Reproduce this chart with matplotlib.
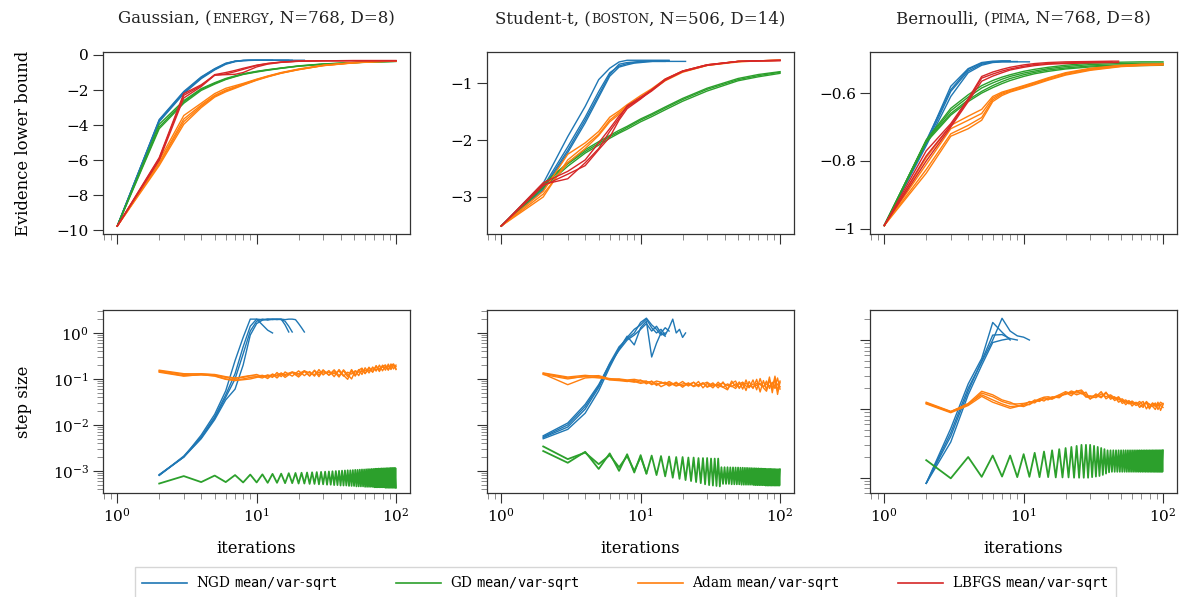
"""
ELBO and step-size traces for NGD, GD, Adam and LBFGS (mean/var-sqrt
parameterisation) on three regression/classification datasets.
"""
import matplotlib
matplotlib.use("Agg")
import matplotlib.pyplot as plt
from matplotlib.lines import Line2D
from matplotlib.offsetbox import AnchoredOffsetbox, HPacker, TextArea

METHODS = ["NGD", "GD", "Adam", "LBFGS"]
LEGEND_LABELS = [r"NGD $\mathtt{mean/var}$-$\mathtt{sqrt}$",
                 r"GD $\mathtt{mean/var}$-$\mathtt{sqrt}$",
                 r"Adam $\mathtt{mean/var}$-$\mathtt{sqrt}$",
                 r"LBFGS $\mathtt{mean/var}$-$\mathtt{sqrt}$"]
TITLES = [("Gaussian, (", "ENERGY", ", N=768, D=8)"),
          ("Student-t, (", "BOSTON", ", N=506, D=14)"),
          ("Bernoulli, (", "PIMA", ", N=768, D=8)")]

# iteration grids
ELBO_ITERS = [1, 2, 3, 4, 5, 6, 7, 8, 10, 12, 15, 20, 30, 50, 70, 100]
NGD_ITERS = list(range(1, 23))
NGD_STEP_ITERS = list(range(2, 23))
GD_STEP_ITERS = list(range(2, 101))
ADAM_STEP_ITERS = [2, 3, 4, 5, 6, 7, 8, 9, 10, 11, 12, 13, 14, 15, 16,
                   18, 20, 22, 24, 26, 28, 30,
                   33, 36, 39, 42, 45, 48, 51, 54, 57, 60,
                   64, 68, 72, 76, 80, 84, 88, 92, 96, 100]
PIMA_LBFGS_ITERS = [1, 2, 3, 4, 5, 6, 7, 8, 10, 12, 15, 20, 30, 43, 48]

# ---- evidence lower bound: Gaussian / energy ----
gauss_elbo_ngd = [
    [-9.75, -3.68, -2.08, -1.25, -0.78, -0.47, -0.35, -0.31, -0.30, -0.30, -0.30, -0.30, -0.30],
    [-9.75, -3.75, -2.15, -1.30, -0.82, -0.50, -0.36, -0.32, -0.30, -0.30, -0.30, -0.30, -0.30,
     -0.30, -0.30, -0.30, -0.30],
    [-9.75, -3.80, -2.20, -1.35, -0.85, -0.53, -0.38, -0.32, -0.31, -0.30, -0.30, -0.30, -0.30,
     -0.30, -0.30, -0.30, -0.30, -0.30],
    [-9.75, -3.72, -2.12, -1.28, -0.80, -0.49, -0.36, -0.31, -0.30, -0.30, -0.30, -0.30, -0.30,
     -0.30, -0.30, -0.30, -0.30, -0.30, -0.30, -0.30, -0.30, -0.30],
]
gauss_elbo_gd = [
    [-9.75, -4.10, -2.67, -1.96, -1.62, -1.37, -1.22, -1.09, -0.95, -0.85, -0.75, -0.63, -0.52, -0.43, -0.39, -0.36],
    [-9.75, -3.95, -2.60, -1.92, -1.58, -1.34, -1.19, -1.07, -0.93, -0.84, -0.74, -0.62, -0.51, -0.43, -0.39, -0.36],
    [-9.75, -4.20, -2.75, -2.02, -1.66, -1.40, -1.24, -1.11, -0.97, -0.87, -0.76, -0.64, -0.53, -0.44, -0.40, -0.37],
]
gauss_elbo_adam = [
    [-9.75, -6.00, -3.45, -2.75, -2.20, -1.90, -1.75, -1.62, -1.38, -1.20, -1.00, -0.80, -0.58, -0.43, -0.37, -0.34],
    [-9.75, -6.15, -3.65, -2.85, -2.30, -2.00, -1.82, -1.66, -1.40, -1.22, -1.02, -0.82, -0.60, -0.44, -0.38, -0.34],
    [-9.75, -6.30, -3.95, -3.00, -2.40, -2.10, -1.90, -1.72, -1.44, -1.25, -1.04, -0.84, -0.61, -0.45, -0.38, -0.35],
    [-9.75, -6.20, -3.80, -2.92, -2.35, -2.05, -1.86, -1.70, -1.42, -1.23, -1.03, -0.83, -0.60, -0.44, -0.38, -0.34],
]
gauss_elbo_lbfgs = [
    [-9.75, -5.90, -2.30, -1.75, -1.12, -1.00, -0.88, -0.76, -0.58, -0.48, -0.40, -0.35, -0.33, -0.32, -0.32, -0.32],
    [-9.75, -5.85, -2.20, -1.70, -1.15, -1.08, -0.95, -0.82, -0.60, -0.49, -0.41, -0.35, -0.33, -0.32, -0.32, -0.32],
    [-9.75, -6.00, -2.45, -1.80, -1.15, -1.12, -1.10, -1.00, -0.68, -0.52, -0.42, -0.36, -0.33, -0.33, -0.33, -0.33],
]

# ---- evidence lower bound: Student-t / boston ----
boston_elbo_ngd = [
    [-3.51, -2.76, -1.94, -1.41, -0.94, -0.74, -0.63, -0.60, -0.60, -0.60, -0.60, -0.60, -0.60,
     -0.60, -0.60, -0.60],
    [-3.51, -2.85, -2.18, -1.65, -1.21, -0.85, -0.67, -0.64, -0.63, -0.62, -0.62, -0.62, -0.62,
     -0.62, -0.62, -0.62, -0.62, -0.62, -0.62, -0.62, -0.62],
    [-3.51, -2.82, -2.12, -1.60, -1.15, -0.82, -0.70, -0.66, -0.64, -0.63, -0.62, -0.62, -0.62,
     -0.62, -0.62],
    [-3.51, -2.88, -2.22, -1.70, -1.25, -0.88, -0.72, -0.68, -0.65, -0.64, -0.63, -0.62, -0.61,
     -0.61, -0.61, -0.61],
]
boston_elbo_gd = [
    [-3.51, -2.80, -2.42, -2.20, -2.06, -1.94, -1.86, -1.78, -1.65, -1.56, -1.44, -1.29, -1.11, -0.94, -0.87, -0.81],
    [-3.51, -2.84, -2.46, -2.23, -2.09, -1.97, -1.88, -1.81, -1.68, -1.59, -1.47, -1.32, -1.14, -0.96, -0.89, -0.83],
    [-3.51, -2.77, -2.40, -2.17, -2.03, -1.92, -1.83, -1.76, -1.63, -1.54, -1.42, -1.27, -1.09, -0.92, -0.85, -0.80],
]
boston_elbo_adam = [
    [-3.51, -2.90, -2.25, -2.05, -1.85, -1.60, -1.49, -1.38, -1.22, -1.10, -0.93, -0.79, -0.68, -0.62, -0.61, -0.60],
    [-3.51, -3.00, -2.35, -2.10, -1.90, -1.65, -1.52, -1.40, -1.25, -1.12, -0.95, -0.80, -0.69, -0.62, -0.61, -0.60],
    [-3.51, -2.95, -2.40, -2.15, -1.92, -1.68, -1.55, -1.42, -1.26, -1.13, -0.96, -0.81, -0.69, -0.63, -0.61, -0.60],
]
boston_elbo_lbfgs = [
    [-3.51, -2.78, -2.68, -2.40, -2.15, -1.85, -1.62, -1.40, -1.25, -1.12, -0.93, -0.79, -0.68, -0.62, -0.61, -0.60],
    [-3.51, -2.75, -2.55, -2.35, -2.05, -1.80, -1.58, -1.42, -1.27, -1.14, -0.95, -0.80, -0.69, -0.62, -0.61, -0.61],
    [-3.51, -2.80, -2.60, -2.45, -2.17, -1.95, -1.65, -1.45, -1.28, -1.12, -0.94, -0.79, -0.68, -0.62, -0.61, -0.60],
]

# ---- evidence lower bound: Bernoulli / pima ----
pima_elbo_ngd = [
    [-0.99, -0.745, -0.580, -0.528, -0.510, -0.506, -0.505, -0.505],
    [-0.99, -0.750, -0.595, -0.535, -0.515, -0.508, -0.507, -0.507, -0.507],
    [-0.99, -0.755, -0.610, -0.540, -0.518, -0.510, -0.508, -0.508, -0.508, -0.508, -0.508],
    [-0.99, -0.740, -0.590, -0.530, -0.512, -0.508, -0.507, -0.507],
]
pima_elbo_gd = [
    [-0.99, -0.738, -0.645, -0.605, -0.578, -0.563, -0.553, -0.546, -0.536, -0.530, -0.524, -0.518, -0.512, -0.509, -0.508, -0.508],
    [-0.99, -0.740, -0.652, -0.612, -0.585, -0.570, -0.559, -0.551, -0.541, -0.535, -0.528, -0.522, -0.516, -0.513, -0.512, -0.512],
    [-0.99, -0.742, -0.660, -0.620, -0.595, -0.578, -0.566, -0.557, -0.546, -0.539, -0.532, -0.526, -0.520, -0.517, -0.516, -0.515],
    [-0.99, -0.745, -0.665, -0.625, -0.600, -0.584, -0.572, -0.563, -0.551, -0.543, -0.536, -0.529, -0.523, -0.520, -0.519, -0.518],
]
pima_elbo_adam = [
    [-0.99, -0.790, -0.695, -0.668, -0.648, -0.610, -0.597, -0.590, -0.578, -0.568, -0.555, -0.540, -0.527, -0.518, -0.515, -0.514],
    [-0.99, -0.810, -0.705, -0.680, -0.660, -0.615, -0.600, -0.592, -0.580, -0.570, -0.557, -0.542, -0.529, -0.519, -0.516, -0.515],
    [-0.99, -0.825, -0.720, -0.695, -0.672, -0.620, -0.603, -0.595, -0.583, -0.572, -0.560, -0.545, -0.531, -0.521, -0.518, -0.516],
    [-0.99, -0.836, -0.727, -0.705, -0.680, -0.625, -0.607, -0.597, -0.585, -0.575, -0.562, -0.547, -0.533, -0.522, -0.519, -0.517],
]
pima_elbo_lbfgs = [
    [-0.99, -0.770, -0.690, -0.617, -0.551, -0.538, -0.530, -0.524, -0.517, -0.513, -0.510, -0.508, -0.507, -0.506, -0.506],
    [-0.99, -0.785, -0.695, -0.620, -0.556, -0.544, -0.535, -0.529, -0.521, -0.516, -0.513, -0.511, -0.509, -0.508],
    [-0.99, -0.800, -0.700, -0.625, -0.565, -0.550, -0.540, -0.532, -0.524, -0.519, -0.515, -0.513, -0.511, -0.510, -0.510],
]

# ---- step sizes: Gaussian / energy ----
gauss_step_ngd = [
    [8.2e-4, 2.0e-3, 6.0e-3, 0.017, 0.055, 0.25, 0.80, 2.0, 2.0, 1.5, 1.15, 1.0],
    [8.0e-4, 2.1e-3, 5.5e-3, 0.015, 0.045, 0.13, 0.50, 1.40, 2.0, 1.95, 2.0, 2.0, 1.95, 2.0, 1.5, 1.05],
    [8.0e-4, 2.0e-3, 5.2e-3, 0.014, 0.040, 0.10, 0.35, 1.10, 1.80, 2.0, 1.9, 2.0, 2.0, 1.95, 1.8, 1.4, 1.05],
    [8.3e-4, 2.0e-3, 5.0e-3, 0.013, 0.035, 0.060, 0.20, 0.9, 1.6, 1.9, 2.0, 1.95, 2.0, 2.0, 1.95,
     2.0, 2.0, 1.95, 1.6, 1.3, 1.05],
]
gauss_step_gd = [
    5.3e-4, 7.7e-4, 5.7e-4, 7.9e-4, 5.7e-4, 8.1e-4, 5.6e-4, 8.3e-4, 5.6e-4, 8.4e-4,
    5.5e-4, 8.6e-4, 5.5e-4, 8.7e-4, 5.4e-4, 8.9e-4, 5.4e-4, 9.0e-4, 5.3e-4, 9.1e-4,
    5.3e-4, 9.2e-4, 5.2e-4, 9.3e-4, 5.2e-4, 9.4e-4, 5.1e-4, 9.5e-4, 5.1e-4, 9.6e-4,
    5.0e-4, 9.7e-4, 5.0e-4, 9.8e-4, 4.9e-4, 9.9e-4, 4.9e-4, 1.00e-3, 4.8e-4, 1.01e-3,
    4.8e-4, 1.02e-3, 4.8e-4, 1.03e-3, 4.7e-4, 1.03e-3, 4.7e-4, 1.04e-3, 4.7e-4, 1.05e-3,
    4.6e-4, 1.05e-3, 4.6e-4, 1.06e-3, 4.6e-4, 1.07e-3, 4.6e-4, 1.07e-3, 4.5e-4, 1.08e-3,
    4.5e-4, 1.09e-3, 4.5e-4, 1.09e-3, 4.5e-4, 1.10e-3, 4.5e-4, 1.10e-3, 4.4e-4, 1.11e-3,
    4.4e-4, 1.11e-3, 4.4e-4, 1.12e-3, 4.4e-4, 1.12e-3, 4.4e-4, 1.13e-3, 4.4e-4, 1.13e-3,
    4.4e-4, 1.13e-3, 4.3e-4, 1.14e-3, 4.3e-4, 1.14e-3, 4.3e-4, 1.14e-3, 4.3e-4, 1.15e-3,
    4.3e-4, 1.15e-3, 4.3e-4, 1.15e-3, 4.3e-4, 1.15e-3, 4.3e-4, 1.15e-3, 4.3e-4,
]
gauss_step_adam = [
    [0.150, 0.125, 0.130, 0.122, 0.108, 0.102, 0.112, 0.118, 0.115, 0.120, 0.110, 0.128, 0.115, 0.135, 0.118,
     0.140, 0.120, 0.150, 0.115, 0.155, 0.122, 0.158,
     0.120, 0.145, 0.110, 0.158, 0.125, 0.100, 0.150, 0.118, 0.165, 0.130,
     0.172, 0.140, 0.190, 0.145, 0.200, 0.155, 0.210, 0.160, 0.205, 0.165],
    [0.145, 0.118, 0.122, 0.118, 0.100, 0.095, 0.100, 0.108, 0.112, 0.105, 0.120, 0.108, 0.138, 0.112, 0.142,
     0.115, 0.150, 0.118, 0.145, 0.115, 0.160, 0.122,
     0.152, 0.112, 0.160, 0.120, 0.098, 0.150, 0.115, 0.160, 0.125, 0.175,
     0.135, 0.182, 0.148, 0.200, 0.150, 0.192, 0.158, 0.212, 0.165, 0.200],
    [0.140, 0.115, 0.125, 0.115, 0.098, 0.092, 0.096, 0.100, 0.108, 0.118, 0.102, 0.125, 0.105, 0.128, 0.108,
     0.138, 0.110, 0.145, 0.118, 0.150, 0.112, 0.152,
     0.122, 0.158, 0.118, 0.150, 0.112, 0.160, 0.122, 0.155, 0.172, 0.132,
     0.180, 0.142, 0.195, 0.152, 0.188, 0.202, 0.155, 0.198, 0.212, 0.160],
    [0.155, 0.130, 0.128, 0.125, 0.112, 0.105, 0.108, 0.118, 0.125, 0.112, 0.122, 0.115, 0.122, 0.132, 0.125,
     0.142, 0.130, 0.150, 0.135, 0.125, 0.140, 0.135,
     0.140, 0.130, 0.148, 0.115, 0.140, 0.128, 0.150, 0.140, 0.145, 0.155,
     0.150, 0.165, 0.160, 0.170, 0.180, 0.175, 0.185, 0.180, 0.195, 0.185],
]

# ---- step sizes: Student-t / boston ----
boston_step_ngd = [
    [5.3e-3, 9.0e-3, 0.022, 0.065, 0.20, 0.45, 0.80, 1.2, 1.5, 2.0, 1.3, 1.0, 1.2, 0.9, 1.3, 2.0, 1.0, 1.2, 0.8, 1.0],
    [5.0e-3, 8.0e-3, 0.018, 0.055, 0.18, 0.45, 0.85, 0.55, 1.3, 1.8, 0.30, 0.6, 1.0, 1.3, 1.1],
    [5.5e-3, 1.0e-2, 0.025, 0.070, 0.22, 0.50, 0.75, 1.0, 1.7, 2.1, 1.5, 1.2, 0.9, 1.0],
    [5.8e-3, 1.1e-2, 0.028, 0.075, 0.21, 0.42, 0.70, 0.90, 1.2, 1.6, 1.1, 1.4, 1.0, 0.85],
]
boston_step_gd = [
    2.7e-3, 1.5e-3, 2.6e-3, 1.1e-3, 2.4e-3, 1.0e-3, 2.3e-3, 9.2e-4, 2.2e-3, 8.6e-4,
    2.15e-3, 8.1e-4, 2.1e-3, 7.6e-4, 2.05e-3, 7.1e-4, 2.0e-3, 6.7e-4, 2.0e-3, 6.3e-4,
    1.95e-3, 6.0e-4, 1.95e-3, 5.7e-4, 1.9e-3, 5.4e-4, 1.9e-3, 5.1e-4, 1.9e-3, 4.9e-4,
    1.85e-3, 4.8e-4, 1.85e-3, 4.7e-4, 1.85e-3, 4.6e-4, 1.2e-3, 5.2e-4, 1.2e-3, 5.2e-4,
    1.2e-3, 5.2e-4, 1.19e-3, 5.1e-4, 1.19e-3, 5.1e-4, 1.18e-3, 5.1e-4, 1.18e-3, 5.1e-4,
    1.17e-3, 5.0e-4, 1.17e-3, 5.0e-4, 1.16e-3, 5.0e-4, 1.16e-3, 5.0e-4, 1.15e-3, 5.0e-4,
    1.15e-3, 5.0e-4, 1.14e-3, 4.9e-4, 1.14e-3, 4.9e-4, 1.13e-3, 4.9e-4, 1.13e-3, 4.9e-4,
    1.12e-3, 4.9e-4, 1.12e-3, 4.9e-4, 1.11e-3, 4.9e-4, 1.11e-3, 4.8e-4, 1.10e-3, 4.8e-4,
    1.10e-3, 4.8e-4, 1.10e-3, 4.8e-4, 1.10e-3, 4.8e-4, 1.09e-3, 4.8e-4, 1.09e-3, 4.8e-4,
    1.09e-3, 4.8e-4, 1.08e-3, 4.8e-4, 1.08e-3, 4.8e-4, 1.08e-3, 4.8e-4, 1.08e-3,
]
# a second GD run, only visibly different over the first iterations
boston_step_gd_b = [3.4e-3, 1.8e-3, 2.5e-3, 1.4e-3, 2.2e-3, 1.2e-3, 2.1e-3, 1.0e-3, 2.0e-3, 9.0e-4]
boston_step_adam = [
    [0.135, 0.110, 0.120, 0.112, 0.098, 0.100, 0.095, 0.098, 0.092, 0.088, 0.080, 0.090, 0.085, 0.078, 0.088,
     0.072, 0.088, 0.070, 0.085, 0.068, 0.082, 0.068,
     0.082, 0.064, 0.086, 0.060, 0.080, 0.090, 0.062, 0.084, 0.056, 0.088,
     0.062, 0.098, 0.052, 0.092, 0.058, 0.110, 0.050, 0.105, 0.046, 0.085],
    [0.125, 0.100, 0.115, 0.118, 0.100, 0.098, 0.090, 0.085, 0.095, 0.078, 0.090, 0.072, 0.085, 0.080, 0.070,
     0.085, 0.066, 0.082, 0.070, 0.088, 0.064, 0.080,
     0.064, 0.085, 0.066, 0.058, 0.090, 0.068, 0.086, 0.060, 0.095, 0.064,
     0.095, 0.058, 0.102, 0.064, 0.054, 0.095, 0.062, 0.115, 0.055, 0.090],
    [0.128, 0.075, 0.105, 0.110, 0.095, 0.092, 0.088, 0.092, 0.085, 0.090, 0.075, 0.082, 0.068, 0.075, 0.082,
     0.070, 0.078, 0.080, 0.068, 0.075, 0.082, 0.066,
     0.075, 0.072, 0.066, 0.078, 0.070, 0.062, 0.078, 0.085, 0.070, 0.066,
     0.078, 0.072, 0.080, 0.066, 0.090, 0.062, 0.085, 0.068, 0.105, 0.060],
    [0.132, 0.105, 0.112, 0.105, 0.102, 0.095, 0.092, 0.088, 0.080, 0.085, 0.088, 0.076, 0.080, 0.085, 0.075,
     0.080, 0.072, 0.076, 0.084, 0.072, 0.078, 0.085,
     0.070, 0.076, 0.080, 0.072, 0.068, 0.078, 0.066, 0.075, 0.080, 0.072,
     0.065, 0.080, 0.075, 0.068, 0.078, 0.070, 0.082, 0.062, 0.078, 0.068],
]

# ---- step sizes: Bernoulli / pima ----
pima_step_ngd = [
    [8.3e-3, 0.052, 0.23, 0.54, 1.8, 1.3, 1.0],
    [8.3e-3, 0.033, 0.16, 0.43, 0.92, 1.0, 1.05, 1.0],
    [8.3e-3, 0.045, 0.20, 0.48, 1.0, 2.07, 1.35, 1.15, 1.1, 1.0],
    [8.3e-3, 0.040, 0.18, 0.50, 1.18, 1.2, 1.05],
]
pima_step_gd = [
    0.018, 0.0098, 0.020, 0.0103, 0.021, 0.0104, 0.021, 0.0102, 0.022, 0.0103,
    0.023, 0.0102, 0.024, 0.0102, 0.025, 0.0101, 0.026, 0.0101, 0.027, 0.0101,
    0.028, 0.0100, 0.029, 0.0100, 0.030, 0.0100, 0.030, 0.0100, 0.030, 0.0102,
    0.029, 0.0104, 0.028, 0.0106, 0.027, 0.0110, 0.026, 0.0115, 0.025, 0.0120,
    0.025, 0.0122, 0.025, 0.0122, 0.025, 0.0122, 0.025, 0.0122, 0.025, 0.0122,
    0.025, 0.0122, 0.025, 0.0122, 0.025, 0.0122, 0.025, 0.0122, 0.025, 0.0122,
    0.025, 0.0122, 0.025, 0.0122, 0.025, 0.0122, 0.025, 0.0122, 0.025, 0.0122,
    0.025, 0.0122, 0.025, 0.0122, 0.025, 0.0122, 0.025, 0.0122, 0.025, 0.0122,
    0.025, 0.0122, 0.025, 0.0122, 0.025, 0.0122, 0.025, 0.0122, 0.025, 0.0122,
    0.025, 0.0122, 0.025, 0.0122, 0.025, 0.0122, 0.025, 0.0122, 0.025,
]
pima_step_adam = [
    [0.125, 0.092, 0.115, 0.170, 0.150, 0.128, 0.118, 0.118, 0.120, 0.125, 0.130, 0.140, 0.148, 0.150, 0.145,
     0.160, 0.178, 0.165, 0.180, 0.188, 0.160, 0.150,
     0.158, 0.145, 0.170, 0.148, 0.140, 0.150, 0.128, 0.135, 0.122, 0.130,
     0.118, 0.128, 0.112, 0.125, 0.105, 0.122, 0.115, 0.110, 0.125, 0.118],
    [0.120, 0.090, 0.118, 0.160, 0.135, 0.118, 0.108, 0.110, 0.112, 0.128, 0.122, 0.138, 0.130, 0.145, 0.142,
     0.152, 0.165, 0.175, 0.160, 0.170, 0.152, 0.142,
     0.150, 0.178, 0.140, 0.155, 0.132, 0.145, 0.120, 0.128, 0.118, 0.125,
     0.112, 0.120, 0.128, 0.100, 0.118, 0.108, 0.122, 0.098, 0.115, 0.120],
    [0.118, 0.088, 0.112, 0.152, 0.125, 0.112, 0.102, 0.108, 0.118, 0.115, 0.128, 0.132, 0.140, 0.135, 0.150,
     0.145, 0.172, 0.155, 0.185, 0.165, 0.175, 0.138,
     0.165, 0.150, 0.175, 0.138, 0.150, 0.125, 0.135, 0.115, 0.128, 0.110,
     0.125, 0.105, 0.118, 0.122, 0.100, 0.120, 0.108, 0.125, 0.095, 0.115],
    [0.122, 0.091, 0.120, 0.180, 0.160, 0.135, 0.125, 0.112, 0.108, 0.118, 0.135, 0.128, 0.145, 0.140, 0.138,
     0.158, 0.162, 0.182, 0.170, 0.178, 0.148, 0.155,
     0.145, 0.165, 0.150, 0.160, 0.145, 0.135, 0.140, 0.125, 0.132, 0.118,
     0.122, 0.115, 0.105, 0.128, 0.115, 0.110, 0.098, 0.118, 0.112, 0.105],
]

# axis limits and tick labels of the ELBO row
ELBO_YLIMS = [(-10.2, 0.17), (-3.65, -0.455), (-1.015, -0.479)]
ELBO_YTICKS = [[-10, -8, -6, -4, -2, 0], [-3, -2, -1], [-1, -0.8, -0.6]]
ELBO_YTICKLABELS = [["\u221210", "\u22128", "\u22126", "\u22124", "\u22122", "0"],
                    ["\u22123", "\u22122", "\u22121"],
                    ["\u22121", "\u22120.8", "\u22120.6"]]
STEP_YLIMS = [(3.3e-4, 3.16), (3.3e-4, 3.16), (6.0e-3, 2.73)]

COLORS = {"NGD": "#1f77b4", "GD": "#2ca02c", "Adam": "#ff7f0e", "LBFGS": "#d62728"}
LW = 1.0


def style_axis(ax):
    for sp in ax.spines.values():
        sp.set_color("#333333")
        sp.set_linewidth(0.9)
    ax.set_xscale("log")
    ax.set_xlim(0.79, 126)
    ax.tick_params(which="major", direction="out", length=7, width=0.8,
                   labelsize=11, pad=3, color="#333333")
    ax.tick_params(which="minor", direction="out", length=4.5, width=0.7,
                   color="#8c8c8c")


def add_title(ax, parts):
    """Title with the dataset name in small capitals."""
    head, caps, tail = parts
    boxes = [TextArea(head, textprops=dict(fontsize=12, color="#222222")),
             TextArea(caps, textprops=dict(fontsize=9, color="#222222")),
             TextArea(tail, textprops=dict(fontsize=12, color="#222222"))]
    pack = HPacker(children=boxes, align="baseline", pad=0, sep=0)
    box = AnchoredOffsetbox(loc="lower center", child=pack, pad=0, borderpad=0,
                            frameon=False, bbox_to_anchor=(0.5, 1.135),
                            bbox_transform=ax.transAxes)
    ax.add_artist(box)


def plot_runs(ax, iters, runs, method):
    for run in runs:
        ax.plot(iters[:len(run)], run, color=COLORS[method], lw=LW)


def main():
    plt.rcParams["font.family"] = ["DejaVu Serif"]
    plt.rcParams["mathtext.fontset"] = "dejavuserif"

    fig = plt.figure(figsize=(11.8, 5.97), dpi=100)
    lefts = [103, 487, 870]
    axes_top = [fig.add_axes([l / 1180, 1 - 234 / 597, 307 / 1180, 182 / 597]) for l in lefts]
    axes_bot = [fig.add_axes([l / 1180, 1 - 493 / 597, 307 / 1180, 183 / 597]) for l in lefts]

    elbo = [
        (gauss_elbo_ngd, gauss_elbo_gd, gauss_elbo_adam, gauss_elbo_lbfgs),
        (boston_elbo_ngd, boston_elbo_gd, boston_elbo_adam, boston_elbo_lbfgs),
        (pima_elbo_ngd, pima_elbo_gd, pima_elbo_adam, pima_elbo_lbfgs),
    ]
    steps = [
        (gauss_step_ngd, [gauss_step_gd], gauss_step_adam),
        (boston_step_ngd, [boston_step_gd, boston_step_gd_b], boston_step_adam),
        (pima_step_ngd, [pima_step_gd], pima_step_adam),
    ]

    for i, ax in enumerate(axes_top):
        ngd, gd, adam, lbfgs = elbo[i]
        plot_runs(ax, NGD_ITERS, ngd, "NGD")
        plot_runs(ax, ELBO_ITERS, gd, "GD")
        plot_runs(ax, ELBO_ITERS, adam, "Adam")
        plot_runs(ax, PIMA_LBFGS_ITERS if i == 2 else ELBO_ITERS, lbfgs, "LBFGS")
        style_axis(ax)
        ax.set_ylim(*ELBO_YLIMS[i])
        ax.set_yticks(ELBO_YTICKS[i], ELBO_YTICKLABELS[i])
        ax.tick_params(labelbottom=False)
        add_title(ax, TITLES[i])

    for i, ax in enumerate(axes_bot):
        ngd, gd_runs, adam = steps[i]
        plot_runs(ax, NGD_STEP_ITERS, ngd, "NGD")
        for gd in gd_runs:
            ax.plot(GD_STEP_ITERS[:len(gd)], gd, color=COLORS["GD"], lw=LW + 0.3)
        plot_runs(ax, ADAM_STEP_ITERS, adam, "Adam")
        style_axis(ax)
        ax.set_yscale("log")
        ax.set_ylim(*STEP_YLIMS[i])
        ax.set_xlabel("iterations", fontsize=11.8)
        ax.xaxis.set_label_coords(0.5, -0.255)
        if i > 0:
            ax.tick_params(which="both", labelleft=False)

    axes_top[0].set_ylabel("Evidence lower bound", fontsize=11.8)
    axes_top[0].yaxis.set_label_coords(-0.232, 0.5)
    axes_bot[0].set_ylabel("step size", fontsize=11.8)
    axes_bot[0].yaxis.set_label_coords(-0.232, 0.5)

    handles = [Line2D([], [], color=COLORS[m], lw=1.2) for m in METHODS]
    fig.legend(handles, LEGEND_LABELS, loc="upper center", ncol=4,
               bbox_to_anchor=(0.53, 1 - 560 / 597), fontsize=9.8,
               handlelength=3.3, handletextpad=0.65, columnspacing=4.3,
               frameon=True, fancybox=False, edgecolor="#cccccc",
               borderpad=0.55)

    fig.savefig("out.png", dpi=100)


if __name__ == "__main__":
    main()
